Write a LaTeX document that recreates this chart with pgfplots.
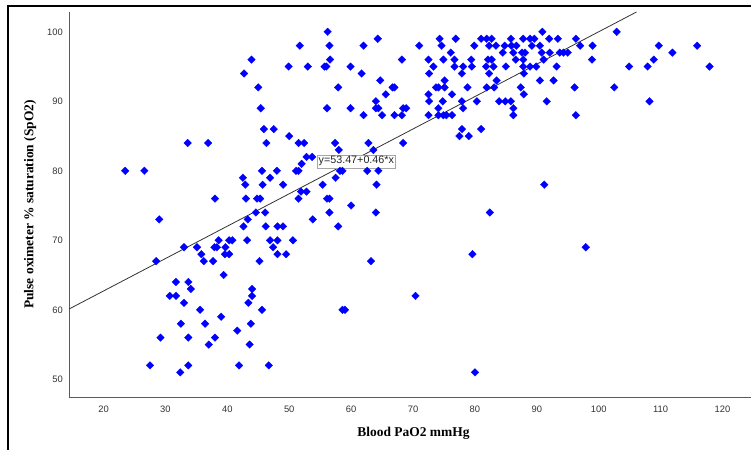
\documentclass[border=0pt]{standalone}
\usepackage{pgfplots}
\pgfplotsset{compat=1.18}
\usepackage{fontspec}
\setmainfont{Liberation Serif}
\setsansfont{Liberation Sans}
\definecolor{axgray}{RGB}{90,90,90}
\definecolor{ptblue}{RGB}{0,0,255}
\pgfplotstableread{
x y
56.2 100
90.9 100
102.9 100
64.3 99
74.3 99
76.9 99
81.0 99
81.9 99
82.7 99
85.8 99
87.8 99
88.9 99
89.6 99
92.0 99
93.4 99
96.3 99
51.7 98
56.5 98
62.0 98
71.0 98
74.6 98
79.9 98
82.3 98
83.4 98
84.8 98
85.9 98
86.7 98
89.2 98
90.5 98
97.0 98
99.0 98
109.7 98
115.9 98
76.1 97
84.5 97
86.2 97
87.6 97
88.1 97
90.8 97
92.1 97
93.7 97
94.3 97
95.0 97
111.9 97
43.9 96
56.6 96
68.2 96
72.5 96
74.9 96
76.7 96
79.4 96
82.1 96
82.7 96
86.6 96
87.8 96
91.1 96
98.9 96
108.9 96
49.9 95
53.0 95
55.7 95
56.0 95
59.9 95
73.3 95
76.7 95
78.1 95
79.5 95
81.8 95
83.0 95
85.0 95
87.8 95
88.9 95
89.9 95
93.2 95
104.9 95
107.9 95
117.9 95
42.7 94
61.7 94
72.6 94
77.9 94
82.3 94
87.9 94
64.7 93
75.1 93
83.5 93
90.5 93
92.7 93
45.0 92
57.9 92
66.7 92
67.0 92
73.7 92
74.1 92
75.1 92
78.8 92
81.9 92
83.1 92
87.4 92
96.1 92
102.5 92
65.6 91
72.5 91
76.3 91
87.9 91
64.0 90
72.6 90
74.8 90
77.9 90
80.3 90
83.9 90
84.9 90
85.8 90
91.6 90
108.2 90
45.4 89
56.1 89
59.9 89
64.0 89
64.4 89
68.4 89
68.9 89
74.1 89
78.1 89
86.2 89
62.0 88
65.0 88
67.0 88
68.2 88
72.5 88
74.1 88
74.9 88
75.4 88
76.3 88
86.2 88
96.3 88
45.9 86
47.5 86
77.9 86
81.0 86
50.0 85
77.5 85
79.0 85
33.6 84
36.9 84
46.3 84
51.5 84
52.4 84
57.4 84
62.8 84
68.4 84
58.0 83
63.6 83
52.8 82
53.7 82
52.0 81
23.5 80
26.6 80
45.6 80
48.0 80
51.1 80
51.5 80
58.2 80
58.6 80
62.6 80
64.4 80
42.5 79
46.9 79
57.5 79
42.9 78
45.7 78
49.0 78
55.4 78
64.1 78
91.2 78
51.9 77
52.8 77
38.0 76
43.0 76
44.8 76
45.3 76
51.5 76
56.1 76
56.5 76
60.0 75
44.6 74
46.1 74
56.5 74
64.0 74
82.4 74
29.0 73
43.3 73
53.8 73
42.6 72
46.2 72
48.1 72
49.0 72
57.9 72
38.6 70
40.3 70
40.8 70
43.2 70
46.9 70
48.1 70
50.6 70
33.0 69
35.1 69
37.9 69
38.3 69
39.7 69
47.4 69
97.9 69
35.8 68
39.6 68
40.3 68
48.1 68
49.5 68
79.6 68
28.5 67
36.2 67
37.7 67
45.2 67
63.2 67
39.4 65
31.7 64
33.7 64
34.1 63
44.0 63
30.7 62
31.7 62
44.0 62
70.4 62
33.0 61
43.4 61
35.6 60
45.6 60
58.6 60
59.0 60
39.0 59
32.5 58
36.4 58
43.8 58
41.6 57
29.2 56
33.7 56
38.0 56
37.0 55
43.6 55
27.5 52
33.7 52
41.9 52
46.7 52
32.4 51
80.0 51
}\pts
\begin{document}
\begin{tikzpicture}
\useasboundingbox (0,0) rectangle (751bp,450bp);
\fill[white] (0,0) rectangle (751bp,450bp);
\draw[line width=1.2bp, black] (8bp,0) -- (8bp,444bp) -- (751bp,444bp);
\begin{axis}[
  x=6.19bp, y=6.95bp,
  at={(69.3bp,52.7bp)}, anchor=south west,
  xmin=14.47, xmax=124.8, ymin=47.41, ymax=102.9,
  axis x line=bottom, axis y line=left,
  axis line style={axgray, line width=1.2bp, -},
  xtick={20,30,...,120}, ytick={50,60,...,100},
  major tick length=0pt,
  tick label style={font=\sffamily\fontsize{9.4}{10}\selectfont, text=black!80},
  /pgf/number format/assume math mode=true,
  xticklabel style={yshift=-5bp},
  yticklabel style={xshift=-3bp},
  xlabel={Blood PaO2 mmHg},
  ylabel={Pulse oximeter \% saturation (SpO2)},
  xlabel style={font=\bfseries\fontsize{13.5}{15}\selectfont, at={(rel axis cs:0.504,-0.0926)}, anchor=center},
  ylabel style={font=\bfseries\fontsize{13.5}{15}\selectfont, at={(rel axis cs:-0.0575,0.5)}, anchor=center},
  clip=false,
]
\addplot[only marks, mark=square*, mark size=2.7pt,
  mark options={rotate=45, fill=ptblue, draw=ptblue, line width=0.3pt}] table[x=x,y=y] {\pts};
\addplot[black!80, line width=0.8bp] coordinates {(14.47,60.13) (106.1,102.85)};
\node[draw=gray!70, fill=white, font=\sffamily\fontsize{10.8}{12}\selectfont, inner sep=1.6bp, text=black!85] at (axis cs:60.84,81.37) {y=53.47+0.46*x};
\end{axis}
\end{tikzpicture}
\end{document}
